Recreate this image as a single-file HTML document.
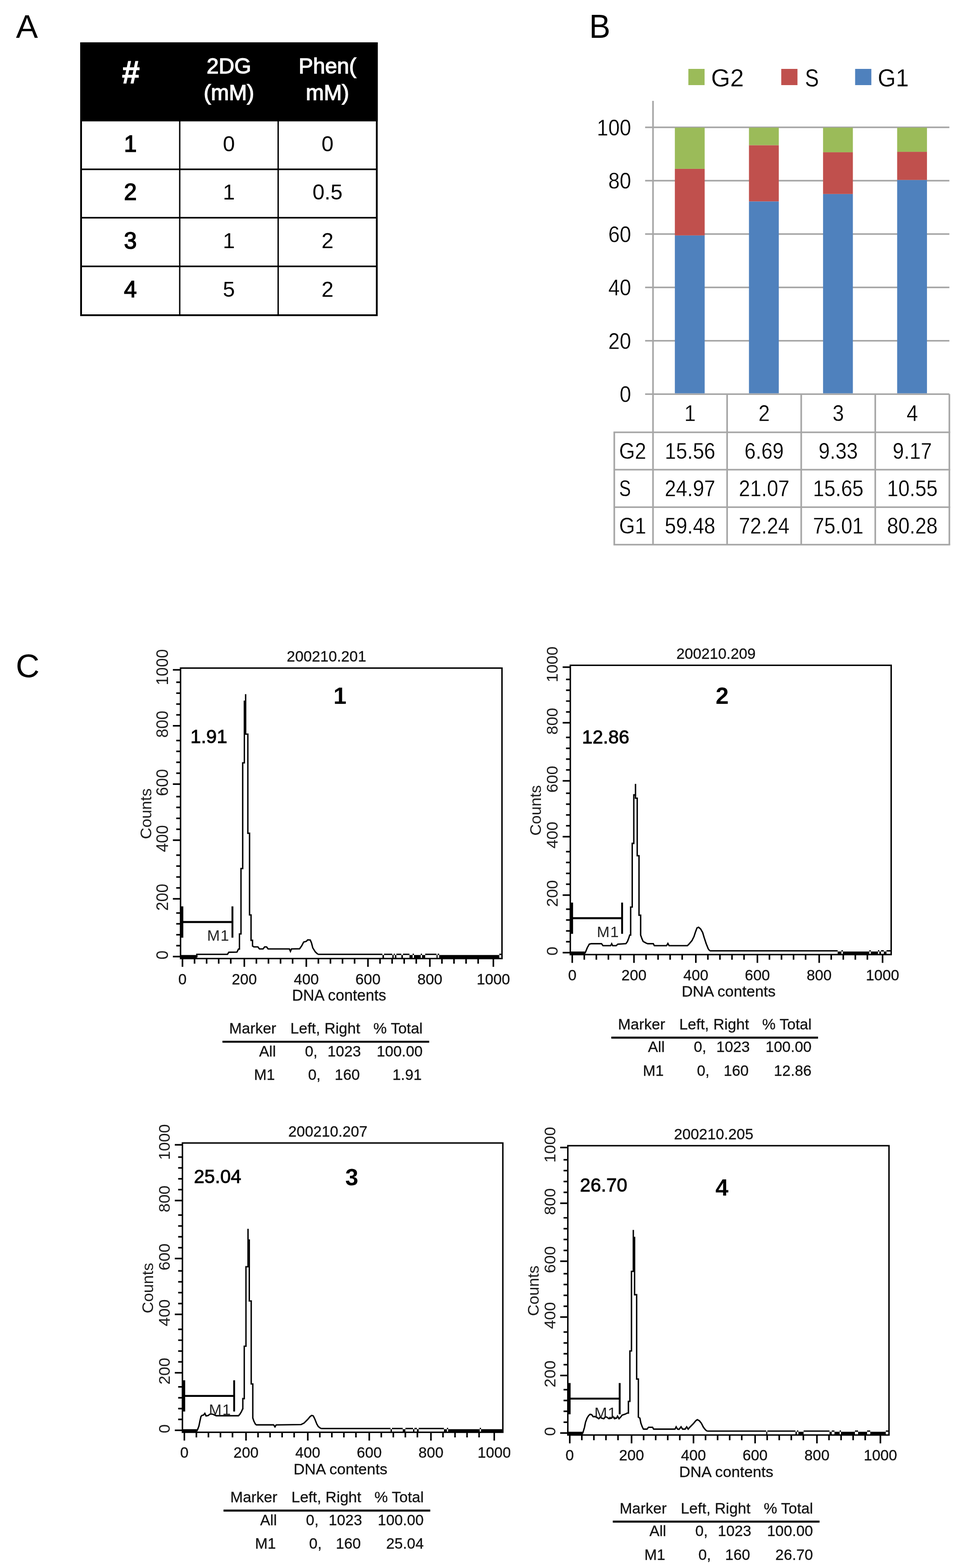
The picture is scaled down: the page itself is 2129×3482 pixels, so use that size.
<!DOCTYPE html>
<html lang="en"><head><meta charset="utf-8"><title>Figure</title>
<style>html,body{margin:0;padding:0;background:#fff}body{width:2129px;height:3482px;overflow:hidden}svg{display:block;font-family:'Liberation Sans', sans-serif}text{white-space:pre}</style>
</head><body>
<svg width="2129" height="3482" viewBox="0 0 2129 3482">
<rect width="2129" height="3482" fill="#fff"/>
<text x="35.5" y="84.0" font-size="73">A</text>
<text x="1308.0" y="84.0" font-size="75" textLength="47.0" lengthAdjust="spacingAndGlyphs">B</text>
<text x="35.0" y="1504.0" font-size="73">C</text>
<rect x="178" y="94" width="660.5" height="175.5" fill="#000"/>
<rect x="180" y="96" width="656.5" height="604" fill="none" stroke="#000" stroke-width="4"/>
<line x1="180" y1="376" x2="836.5" y2="376" stroke="#000" stroke-width="3.4"/>
<line x1="180" y1="483.5" x2="836.5" y2="483.5" stroke="#000" stroke-width="3.4"/>
<line x1="180" y1="591.5" x2="836.5" y2="591.5" stroke="#000" stroke-width="3.4"/>
<line x1="399" y1="268" x2="399" y2="700" stroke="#000" stroke-width="3"/>
<line x1="617.5" y1="268" x2="617.5" y2="700" stroke="#000" stroke-width="3"/>
<text x="290.5" y="184.5" font-size="71" text-anchor="middle" font-weight="bold" fill="#fff" stroke="#fff" stroke-width="1.2">#</text>
<text x="508.2" y="162.5" font-size="48" text-anchor="middle" fill="#fff" stroke="#fff" stroke-width="1.5">2DG</text>
<text x="508.2" y="221.5" font-size="48" text-anchor="middle" fill="#fff" stroke="#fff" stroke-width="1.5">(mM)</text>
<text x="727.0" y="162.5" font-size="48" text-anchor="middle" fill="#fff" stroke="#fff" stroke-width="1.5">Phen(</text>
<text x="727.0" y="221.5" font-size="48" text-anchor="middle" fill="#fff" stroke="#fff" stroke-width="1.5">mM)</text>
<text x="289.5" y="336.5" font-size="51" text-anchor="middle" stroke="#000" stroke-width="1.7">1</text>
<text x="508.2" y="335.5" font-size="48" text-anchor="middle">0</text>
<text x="727.0" y="335.5" font-size="48" text-anchor="middle">0</text>
<text x="289.5" y="444.2" font-size="51" text-anchor="middle" stroke="#000" stroke-width="1.7">2</text>
<text x="508.2" y="443.2" font-size="48" text-anchor="middle">1</text>
<text x="727.0" y="443.2" font-size="48" text-anchor="middle">0.5</text>
<text x="289.5" y="552.0" font-size="51" text-anchor="middle" stroke="#000" stroke-width="1.7">3</text>
<text x="508.2" y="551.0" font-size="48" text-anchor="middle">1</text>
<text x="727.0" y="551.0" font-size="48" text-anchor="middle">2</text>
<text x="289.5" y="660.2" font-size="51" text-anchor="middle" stroke="#000" stroke-width="1.7">4</text>
<text x="508.2" y="659.2" font-size="48" text-anchor="middle">5</text>
<text x="727.0" y="659.2" font-size="48" text-anchor="middle">2</text>
<line x1="1432.2" y1="875.2" x2="2107.6" y2="875.2" stroke="#A6A6A6" stroke-width="3.6"/>
<line x1="1432.2" y1="756.7" x2="2107.6" y2="756.7" stroke="#A6A6A6" stroke-width="3.6"/>
<line x1="1432.2" y1="638.2" x2="2107.6" y2="638.2" stroke="#A6A6A6" stroke-width="3.6"/>
<line x1="1432.2" y1="519.8" x2="2107.6" y2="519.8" stroke="#A6A6A6" stroke-width="3.6"/>
<line x1="1432.2" y1="401.3" x2="2107.6" y2="401.3" stroke="#A6A6A6" stroke-width="3.6"/>
<line x1="1432.2" y1="282.8" x2="2107.6" y2="282.8" stroke="#A6A6A6" stroke-width="3.6"/>
<rect x="1498.2" y="522.8" width="66.2" height="350.6" fill="#4F81BD"/>
<rect x="1498.2" y="374.9" width="66.2" height="147.9" fill="#C0504D"/>
<rect x="1498.2" y="283.4" width="66.2" height="91.5" fill="#9BBB59"/>
<rect x="1662.7" y="447.3" width="66.2" height="426.1" fill="#4F81BD"/>
<rect x="1662.7" y="322.4" width="66.2" height="124.8" fill="#C0504D"/>
<rect x="1662.7" y="283.4" width="66.2" height="39.0" fill="#9BBB59"/>
<rect x="1827.2" y="430.8" width="66.2" height="442.6" fill="#4F81BD"/>
<rect x="1827.2" y="338.1" width="66.2" height="92.7" fill="#C0504D"/>
<rect x="1827.2" y="283.4" width="66.2" height="54.7" fill="#9BBB59"/>
<rect x="1991.7" y="399.6" width="66.2" height="473.8" fill="#4F81BD"/>
<rect x="1991.7" y="337.1" width="66.2" height="62.5" fill="#C0504D"/>
<rect x="1991.7" y="283.4" width="66.2" height="53.7" fill="#9BBB59"/>
<line x1="1449.7" y1="224" x2="1449.7" y2="1209.5" stroke="#A6A6A6" stroke-width="3.6"/>
<line x1="1361.9" y1="960.0" x2="2109.4" y2="960.0" stroke="#A6A6A6" stroke-width="3.6"/>
<line x1="1361.9" y1="1043.0" x2="2109.4" y2="1043.0" stroke="#A6A6A6" stroke-width="3.6"/>
<line x1="1361.9" y1="1126.3" x2="2109.4" y2="1126.3" stroke="#A6A6A6" stroke-width="3.6"/>
<line x1="1361.9" y1="1209.5" x2="2109.4" y2="1209.5" stroke="#A6A6A6" stroke-width="3.6"/>
<line x1="1363.7" y1="960.0" x2="1363.7" y2="1209.5" stroke="#A6A6A6" stroke-width="3.6"/>
<line x1="1614.2" y1="875.2" x2="1614.2" y2="1209.5" stroke="#A6A6A6" stroke-width="3.6"/>
<line x1="1778.7" y1="875.2" x2="1778.7" y2="1209.5" stroke="#A6A6A6" stroke-width="3.6"/>
<line x1="1943.1" y1="875.2" x2="1943.1" y2="1209.5" stroke="#A6A6A6" stroke-width="3.6"/>
<line x1="2107.6" y1="875.2" x2="2107.6" y2="1209.5" stroke="#A6A6A6" stroke-width="3.6"/>
<text x="1401.0" y="893.2" font-size="50" text-anchor="end" textLength="25.3" lengthAdjust="spacingAndGlyphs" stroke="#fff" stroke-width="0.35">0</text>
<text x="1401.0" y="774.7" font-size="50" text-anchor="end" textLength="50.6" lengthAdjust="spacingAndGlyphs" stroke="#fff" stroke-width="0.35">20</text>
<text x="1401.0" y="656.2" font-size="50" text-anchor="end" textLength="50.6" lengthAdjust="spacingAndGlyphs" stroke="#fff" stroke-width="0.35">40</text>
<text x="1401.0" y="537.8" font-size="50" text-anchor="end" textLength="50.6" lengthAdjust="spacingAndGlyphs" stroke="#fff" stroke-width="0.35">60</text>
<text x="1401.0" y="419.3" font-size="50" text-anchor="end" textLength="50.6" lengthAdjust="spacingAndGlyphs" stroke="#fff" stroke-width="0.35">80</text>
<text x="1401.0" y="300.8" font-size="50" text-anchor="end" textLength="75.9" lengthAdjust="spacingAndGlyphs" stroke="#fff" stroke-width="0.35">100</text>
<text x="1531.9" y="934.5" font-size="50" text-anchor="middle" textLength="25.3" lengthAdjust="spacingAndGlyphs" stroke="#fff" stroke-width="0.35">1</text>
<text x="1696.4" y="934.5" font-size="50" text-anchor="middle" textLength="25.3" lengthAdjust="spacingAndGlyphs" stroke="#fff" stroke-width="0.35">2</text>
<text x="1860.9" y="934.5" font-size="50" text-anchor="middle" textLength="25.3" lengthAdjust="spacingAndGlyphs" stroke="#fff" stroke-width="0.35">3</text>
<text x="2025.4" y="934.5" font-size="50" text-anchor="middle" textLength="25.3" lengthAdjust="spacingAndGlyphs" stroke="#fff" stroke-width="0.35">4</text>
<text x="1374.5" y="1019.0" font-size="50" textLength="60.0" lengthAdjust="spacingAndGlyphs" stroke="#fff" stroke-width="0.35">G2</text>
<text x="1531.9" y="1019.0" font-size="50" text-anchor="middle" textLength="112.4" lengthAdjust="spacingAndGlyphs" stroke="#fff" stroke-width="0.35">15.56</text>
<text x="1696.4" y="1019.0" font-size="50" text-anchor="middle" textLength="87.1" lengthAdjust="spacingAndGlyphs" stroke="#fff" stroke-width="0.35">6.69</text>
<text x="1860.9" y="1019.0" font-size="50" text-anchor="middle" textLength="87.1" lengthAdjust="spacingAndGlyphs" stroke="#fff" stroke-width="0.35">9.33</text>
<text x="2025.4" y="1019.0" font-size="50" text-anchor="middle" textLength="87.1" lengthAdjust="spacingAndGlyphs" stroke="#fff" stroke-width="0.35">9.17</text>
<text x="1374.5" y="1102.0" font-size="50" textLength="26.0" lengthAdjust="spacingAndGlyphs" stroke="#fff" stroke-width="0.35">S</text>
<text x="1531.9" y="1102.0" font-size="50" text-anchor="middle" textLength="112.4" lengthAdjust="spacingAndGlyphs" stroke="#fff" stroke-width="0.35">24.97</text>
<text x="1696.4" y="1102.0" font-size="50" text-anchor="middle" textLength="112.4" lengthAdjust="spacingAndGlyphs" stroke="#fff" stroke-width="0.35">21.07</text>
<text x="1860.9" y="1102.0" font-size="50" text-anchor="middle" textLength="112.4" lengthAdjust="spacingAndGlyphs" stroke="#fff" stroke-width="0.35">15.65</text>
<text x="2025.4" y="1102.0" font-size="50" text-anchor="middle" textLength="112.4" lengthAdjust="spacingAndGlyphs" stroke="#fff" stroke-width="0.35">10.55</text>
<text x="1374.5" y="1185.3" font-size="50" textLength="60.0" lengthAdjust="spacingAndGlyphs" stroke="#fff" stroke-width="0.35">G1</text>
<text x="1531.9" y="1185.3" font-size="50" text-anchor="middle" textLength="112.4" lengthAdjust="spacingAndGlyphs" stroke="#fff" stroke-width="0.35">59.48</text>
<text x="1696.4" y="1185.3" font-size="50" text-anchor="middle" textLength="112.4" lengthAdjust="spacingAndGlyphs" stroke="#fff" stroke-width="0.35">72.24</text>
<text x="1860.9" y="1185.3" font-size="50" text-anchor="middle" textLength="112.4" lengthAdjust="spacingAndGlyphs" stroke="#fff" stroke-width="0.35">75.01</text>
<text x="2025.4" y="1185.3" font-size="50" text-anchor="middle" textLength="112.4" lengthAdjust="spacingAndGlyphs" stroke="#fff" stroke-width="0.35">80.28</text>
<rect x="1528.2" y="153" width="36" height="36" fill="#9BBB59"/>
<text x="1578.5" y="191.5" font-size="56" textLength="73.0" lengthAdjust="spacingAndGlyphs" stroke="#fff" stroke-width="0.35">G2</text>
<rect x="1734.4" y="153" width="36" height="36" fill="#C0504D"/>
<text x="1787.0" y="191.5" font-size="56" textLength="31.0" lengthAdjust="spacingAndGlyphs" stroke="#fff" stroke-width="0.35">S</text>
<rect x="1898.4" y="153" width="36" height="36" fill="#4F81BD"/>
<text x="1948.5" y="191.5" font-size="56" textLength="69.0" lengthAdjust="spacingAndGlyphs" stroke="#fff" stroke-width="0.35">G1</text>
<g transform="translate(400.8 1483.6) scale(1.00000 1.00000)">
<path d="M4.3 645.0v18.5M31.1 645.0v11.5M57.9 645.0v11.5M84.7 645.0v11.5M111.5 645.0v11.5M141.6 645.0v18.5M168.4 645.0v11.5M195.2 645.0v11.5M222.0 645.0v11.5M248.8 645.0v11.5M279.2 645.0v18.5M306.0 645.0v11.5M332.8 645.0v11.5M359.6 645.0v11.5M386.4 645.0v11.5M416.1 645.0v18.5M442.9 645.0v11.5M469.7 645.0v11.5M496.5 645.0v11.5M523.3 645.0v11.5M553.5 645.0v18.5M580.3 645.0v11.5M607.1 645.0v11.5M633.9 645.0v11.5M660.7 645.0v11.5M694.5 645.0v18.5M0 640.6h-17M0 616.4h-9.5M0 592.2h-9.5M0 568.0h-9.5M0 543.8h-9.5M0 512.3h-17M0 488.1h-9.5M0 463.9h-9.5M0 439.7h-9.5M0 415.5h-9.5M0 382.1h-17M0 357.9h-9.5M0 333.7h-9.5M0 309.5h-9.5M0 285.3h-9.5M0 257.6h-17M0 233.4h-9.5M0 209.2h-9.5M0 185.0h-9.5M0 160.8h-9.5M0 128.2h-17M0 104.0h-9.5M0 79.8h-9.5M0 55.6h-9.5M0 31.4h-9.5M0 4.0h-17" stroke="#000" stroke-width="3.5" fill="none"/>
<polyline points="1.2,640.8 36.2,640.8 36.2,635.6 104.2,635.6 107.2,631.0 125.2,630.6 128.7,623.9 130.8,623.9 130.8,590.4 134.2,590.4 134.2,445.1 138.0,445.1 138.0,210.4 141.7,210.4 141.7,73.6 144.5,73.6 144.5,57.9 144.5,146.6 149.4,146.6 149.4,366.8 153.2,366.8 153.2,548.1 156.5,548.1 156.5,604.5 159.8,604.5 159.8,617.0 162.8,619.2 171.7,619.2 175.2,623.7 183.2,623.7 186.7,619.2 191.0,619.2 194.4,623.7 241.7,623.7 244.0,628.9 246.2,623.7 264.3,623.3 268.8,617.0 273.3,608.4 279.2,606.8 282.4,603.4 288.0,603.8 290.7,610.2 293.6,621.4 299.3,630.4 304.9,635.6" fill="none" stroke="#000" stroke-width="3.1" stroke-linejoin="miter"/>
<path d="M304.9 635.6H448.2M451.7 635.6H470.2M473.2 635.6H475.7M479.2 635.6H490.2M493.7 635.6H508.2M515.2 635.6H518.2M533.2 635.6H536.2M543.2 635.6H568.2M570.7 635.6H574.2M707.7 635.6H712.2" stroke="#000" stroke-width="3" fill="none"/>
<path d="M1.2 641.1H36.2M448.2 641.1H451.7M470.2 641.1H473.2M475.7 641.1H479.2M490.2 641.1H493.7M508.2 641.1H515.2M518.2 641.1H533.2M536.2 641.1H543.2M568.2 641.1H570.7M574.2 641.1H707.7" stroke="#000" stroke-width="7.8" fill="none"/>
<rect x="0" y="0" width="713.6" height="645.0" fill="none" stroke="#000" stroke-width="3.2"/>
<path d="M4.3 563.9H115.2" stroke="#000" stroke-width="4.4" fill="none"/>
<path d="M3.5 529.1v69.6" stroke="#000" stroke-width="5.3" fill="none"/>
<path d="M115.2 529.1v69.6" stroke="#000" stroke-width="4.2" fill="none"/>
<text x="59.0" y="605.7" font-size="34" fill="#222" letter-spacing="1.5">M1</text>
<text x="4.3" y="702.0" font-size="33.4" text-anchor="middle" fill="#111" stroke="#111" stroke-width="0.35">0</text>
<text x="141.6" y="702.0" font-size="33.4" text-anchor="middle" fill="#111" stroke="#111" stroke-width="0.35">200</text>
<text x="279.2" y="702.0" font-size="33.4" text-anchor="middle" fill="#111" stroke="#111" stroke-width="0.35">400</text>
<text x="416.1" y="702.0" font-size="33.4" text-anchor="middle" fill="#111" stroke="#111" stroke-width="0.35">600</text>
<text x="553.5" y="702.0" font-size="33.4" text-anchor="middle" fill="#111" stroke="#111" stroke-width="0.35">800</text>
<text x="694.5" y="702.0" font-size="33.4" text-anchor="middle" fill="#111" stroke="#111" stroke-width="0.35">1000</text>
<text x="-28.0" y="637.1" font-size="36" text-anchor="middle" fill="#1c1c1c" transform="rotate(-90 -28.0 637.1)">0</text>
<text x="-28.0" y="508.8" font-size="36" text-anchor="middle" fill="#1c1c1c" transform="rotate(-90 -28.0 508.8)">200</text>
<text x="-28.0" y="378.6" font-size="36" text-anchor="middle" fill="#1c1c1c" transform="rotate(-90 -28.0 378.6)">400</text>
<text x="-28.0" y="254.1" font-size="36" text-anchor="middle" fill="#1c1c1c" transform="rotate(-90 -28.0 254.1)">600</text>
<text x="-28.0" y="124.7" font-size="36" text-anchor="middle" fill="#1c1c1c" transform="rotate(-90 -28.0 124.7)">800</text>
<text x="-28.0" y="-2.0" font-size="36" text-anchor="middle" fill="#1c1c1c" transform="rotate(-90 -28.0 -2.0)">1000</text>
<text x="-65.0" y="323.5" font-size="35.6" text-anchor="middle" fill="#1c1c1c" transform="rotate(-90 -65.0 323.5)">Counts</text>
<text x="352.0" y="738.5" font-size="34.199999999999996" text-anchor="middle" fill="#111" stroke="#111" stroke-width="0.35">DNA contents</text>
<text x="324.0" y="-14.5" font-size="33.4" text-anchor="middle" fill="#111" stroke="#111" stroke-width="0.35">200210.201</text>
</g>
<g transform="translate(400.8 1483.6)">
<text x="354.0" y="79.5" font-size="52" text-anchor="middle" font-weight="bold">1</text>
<text x="22.0" y="166.5" font-size="42" stroke="#000" stroke-width="1">1.91</text>
</g>
<g transform="translate(400.8 1483.6)">
<text x="108.0" y="811.5" font-size="33.6" fill="#111" stroke="#111" stroke-width="0.35">Marker</text>
<text x="243.8" y="811.5" font-size="34.0" fill="#111" stroke="#111" stroke-width="0.35">Left, Right</text>
<text x="428.0" y="811.5" font-size="33.6" fill="#111" stroke="#111" stroke-width="0.35">% Total</text>
<line x1="93" y1="829.8" x2="552" y2="829.8" stroke="#000" stroke-width="4.4"/>
<text x="211.5" y="862.0" font-size="33.4" text-anchor="end" fill="#111" stroke="#111" stroke-width="0.35">All</text>
<text x="304.0" y="862.0" font-size="33.4" text-anchor="end" fill="#111" stroke="#111" stroke-width="0.35">0,</text>
<text x="400.5" y="862.0" font-size="33.4" text-anchor="end" fill="#111" stroke="#111" stroke-width="0.35">1023</text>
<text x="537.5" y="862.0" font-size="33.4" text-anchor="end" fill="#111" stroke="#111" stroke-width="0.35">100.00</text>
<text x="209.5" y="914.5" font-size="33.4" text-anchor="end" fill="#111" stroke="#111" stroke-width="0.35">M1</text>
<text x="311.0" y="914.5" font-size="33.4" text-anchor="end" fill="#111" stroke="#111" stroke-width="0.35">0,</text>
<text x="398.0" y="914.5" font-size="33.4" text-anchor="end" fill="#111" stroke="#111" stroke-width="0.35">160</text>
<text x="535.5" y="914.5" font-size="33.4" text-anchor="end" fill="#111" stroke="#111" stroke-width="0.35">1.91</text>
</g>
<g transform="translate(1266.1 1477.4) scale(0.99818 0.99597)">
<path d="M4.3 645.0v18.5M31.1 645.0v11.5M57.9 645.0v11.5M84.7 645.0v11.5M111.5 645.0v11.5M141.6 645.0v18.5M168.4 645.0v11.5M195.2 645.0v11.5M222.0 645.0v11.5M248.8 645.0v11.5M279.2 645.0v18.5M306.0 645.0v11.5M332.8 645.0v11.5M359.6 645.0v11.5M386.4 645.0v11.5M416.1 645.0v18.5M442.9 645.0v11.5M469.7 645.0v11.5M496.5 645.0v11.5M523.3 645.0v11.5M553.5 645.0v18.5M580.3 645.0v11.5M607.1 645.0v11.5M633.9 645.0v11.5M660.7 645.0v11.5M694.5 645.0v18.5M0 640.6h-17M0 616.4h-9.5M0 592.2h-9.5M0 568.0h-9.5M0 543.8h-9.5M0 512.3h-17M0 488.1h-9.5M0 463.9h-9.5M0 439.7h-9.5M0 415.5h-9.5M0 382.1h-17M0 357.9h-9.5M0 333.7h-9.5M0 309.5h-9.5M0 285.3h-9.5M0 257.6h-17M0 233.4h-9.5M0 209.2h-9.5M0 185.0h-9.5M0 160.8h-9.5M0 128.2h-17M0 104.0h-9.5M0 79.8h-9.5M0 55.6h-9.5M0 31.4h-9.5M0 4.0h-17" stroke="#000" stroke-width="3.5" fill="none"/>
<polyline points="0.9,641.4 32.5,641.4 33.2,641.1 37.7,629.7 42.2,621.8 46.8,620.7 69.4,620.7 72.7,625.2 89.7,625.2 92.0,620.7 94.2,625.2 102.1,625.2 105.5,621.8 123.6,620.7 127.0,616.1 130.4,607.1 132.2,601.4 134.2,601.4 134.2,539.1 137.7,539.1 137.7,397.1 141.2,397.1 141.2,288.9 145.0,288.9 145.0,264.5 145.0,296.3 148.8,296.3 148.8,424.6 152.8,424.6 152.8,557.2 156.4,557.2 156.4,601.4 159.1,609.3 162.0,615.7 168.8,619.5 172.2,620.7 184.6,620.7 186.9,625.2 214.0,625.2 217.0,620.2 219.7,625.2 260.4,625.2 263.8,621.8 270.5,613.9 275.1,604.8 278.4,594.6 281.8,585.5 285.2,584.0 289.7,587.8 294.3,595.7 297.7,607.1 302.2,620.7 306.7,632.0 310.1,636.6" fill="none" stroke="#000" stroke-width="3.1" stroke-linejoin="miter"/>
<path d="M310.1 636.6H594.6M603.0 636.6H606.0M665.1 636.6H668.1M684.1 636.6H687.2M691.2 636.6H697.2M703.2 636.6H712.2" stroke="#000" stroke-width="3" fill="none"/>
<path d="M0.9 641.6H32.5M594.6 641.6H603.0M606.0 641.6H665.1M668.1 641.6H684.1M687.2 641.6H691.2M697.2 641.6H703.2" stroke="#000" stroke-width="6.8" fill="none"/>
<rect x="0" y="0" width="713.6" height="645.0" fill="none" stroke="#000" stroke-width="3.2"/>
<path d="M4.3 563.9H115.2" stroke="#000" stroke-width="4.4" fill="none"/>
<path d="M3.5 529.1v69.6" stroke="#000" stroke-width="5.3" fill="none"/>
<path d="M115.2 529.1v69.6" stroke="#000" stroke-width="4.2" fill="none"/>
<text x="59.0" y="606.5" font-size="34" fill="#222" letter-spacing="1.5">M1</text>
<text x="4.3" y="702.0" font-size="33.4" text-anchor="middle" fill="#111" stroke="#111" stroke-width="0.35">0</text>
<text x="141.6" y="702.0" font-size="33.4" text-anchor="middle" fill="#111" stroke="#111" stroke-width="0.35">200</text>
<text x="279.2" y="702.0" font-size="33.4" text-anchor="middle" fill="#111" stroke="#111" stroke-width="0.35">400</text>
<text x="416.1" y="702.0" font-size="33.4" text-anchor="middle" fill="#111" stroke="#111" stroke-width="0.35">600</text>
<text x="553.5" y="702.0" font-size="33.4" text-anchor="middle" fill="#111" stroke="#111" stroke-width="0.35">800</text>
<text x="694.5" y="702.0" font-size="33.4" text-anchor="middle" fill="#111" stroke="#111" stroke-width="0.35">1000</text>
<text x="-28.0" y="637.1" font-size="36" text-anchor="middle" fill="#1c1c1c" transform="rotate(-90 -28.0 637.1)">0</text>
<text x="-28.0" y="508.8" font-size="36" text-anchor="middle" fill="#1c1c1c" transform="rotate(-90 -28.0 508.8)">200</text>
<text x="-28.0" y="378.6" font-size="36" text-anchor="middle" fill="#1c1c1c" transform="rotate(-90 -28.0 378.6)">400</text>
<text x="-28.0" y="254.1" font-size="36" text-anchor="middle" fill="#1c1c1c" transform="rotate(-90 -28.0 254.1)">600</text>
<text x="-28.0" y="124.7" font-size="36" text-anchor="middle" fill="#1c1c1c" transform="rotate(-90 -28.0 124.7)">800</text>
<text x="-28.0" y="-2.0" font-size="36" text-anchor="middle" fill="#1c1c1c" transform="rotate(-90 -28.0 -2.0)">1000</text>
<text x="-65.0" y="323.5" font-size="35.6" text-anchor="middle" fill="#1c1c1c" transform="rotate(-90 -65.0 323.5)">Counts</text>
<text x="352.0" y="738.5" font-size="34.199999999999996" text-anchor="middle" fill="#111" stroke="#111" stroke-width="0.35">DNA contents</text>
<text x="324.0" y="-14.5" font-size="33.4" text-anchor="middle" fill="#111" stroke="#111" stroke-width="0.35">200210.209</text>
</g>
<g transform="translate(1266.1 1477.4)">
<text x="337.0" y="85.5" font-size="52" text-anchor="middle" font-weight="bold">2</text>
<text x="26.0" y="173.5" font-size="42" stroke="#000" stroke-width="1">12.86</text>
</g>
<g transform="translate(1264.1 1474.4)">
<text x="108.0" y="811.5" font-size="33.6" fill="#111" stroke="#111" stroke-width="0.35">Marker</text>
<text x="243.8" y="811.5" font-size="34.0" fill="#111" stroke="#111" stroke-width="0.35">Left, Right</text>
<text x="428.0" y="811.5" font-size="33.6" fill="#111" stroke="#111" stroke-width="0.35">% Total</text>
<line x1="93" y1="829.8" x2="552" y2="829.8" stroke="#000" stroke-width="4.4"/>
<text x="211.5" y="862.0" font-size="33.4" text-anchor="end" fill="#111" stroke="#111" stroke-width="0.35">All</text>
<text x="304.0" y="862.0" font-size="33.4" text-anchor="end" fill="#111" stroke="#111" stroke-width="0.35">0,</text>
<text x="400.5" y="862.0" font-size="33.4" text-anchor="end" fill="#111" stroke="#111" stroke-width="0.35">1023</text>
<text x="537.5" y="862.0" font-size="33.4" text-anchor="end" fill="#111" stroke="#111" stroke-width="0.35">100.00</text>
<text x="209.5" y="914.5" font-size="33.4" text-anchor="end" fill="#111" stroke="#111" stroke-width="0.35">M1</text>
<text x="311.0" y="914.5" font-size="33.4" text-anchor="end" fill="#111" stroke="#111" stroke-width="0.35">0,</text>
<text x="398.0" y="914.5" font-size="33.4" text-anchor="end" fill="#111" stroke="#111" stroke-width="0.35">160</text>
<text x="537.5" y="914.5" font-size="33.4" text-anchor="end" fill="#111" stroke="#111" stroke-width="0.35">12.86</text>
</g>
<g transform="translate(405.0 2538.2) scale(0.99678 0.99597)">
<path d="M4.3 645.0v18.5M31.1 645.0v11.5M57.9 645.0v11.5M84.7 645.0v11.5M111.5 645.0v11.5M141.6 645.0v18.5M168.4 645.0v11.5M195.2 645.0v11.5M222.0 645.0v11.5M248.8 645.0v11.5M279.2 645.0v18.5M306.0 645.0v11.5M332.8 645.0v11.5M359.6 645.0v11.5M386.4 645.0v11.5M416.1 645.0v18.5M442.9 645.0v11.5M469.7 645.0v11.5M496.5 645.0v11.5M523.3 645.0v11.5M553.5 645.0v18.5M580.3 645.0v11.5M607.1 645.0v11.5M633.9 645.0v11.5M660.7 645.0v11.5M694.5 645.0v18.5M0 640.6h-17M0 616.4h-9.5M0 592.2h-9.5M0 568.0h-9.5M0 543.8h-9.5M0 512.3h-17M0 488.1h-9.5M0 463.9h-9.5M0 439.7h-9.5M0 415.5h-9.5M0 382.1h-17M0 357.9h-9.5M0 333.7h-9.5M0 309.5h-9.5M0 285.3h-9.5M0 257.6h-17M0 233.4h-9.5M0 209.2h-9.5M0 185.0h-9.5M0 160.8h-9.5M0 128.2h-17M0 104.0h-9.5M0 79.8h-9.5M0 55.6h-9.5M0 31.4h-9.5M0 4.0h-17" stroke="#000" stroke-width="3.5" fill="none"/>
<polyline points="1.0,641.3 32.6,641.3 33.3,640.2 36.7,631.2 39.0,619.9 41.3,609.7 43.5,607.4 46.9,606.7 49.9,602.9 52.6,608.5 57.1,607.9 60.5,605.1 63.9,604.0 68.4,605.1 75.2,608.1 125.0,608.1 128.4,604.0 131.8,598.3 134.1,592.7 134.5,592.7 134.5,570.0 137.7,570.0 137.7,453.1 141.5,453.1 141.5,275.9 146.1,275.9 146.1,191.4 146.1,216.4 148.9,216.4 148.9,352.3 153.2,352.3 153.2,537.2 156.7,537.2 156.7,613.1 159.0,619.9 162.4,626.7 164.6,628.5 203.1,628.5 206.1,633.0 208.8,628.5 264.2,627.8 271.0,624.4 278.9,616.5 284.6,609.7 288.0,607.4 291.4,608.5 294.8,615.3 299.3,626.7 302.7,632.3 308.4,636.6" fill="none" stroke="#000" stroke-width="3.1" stroke-linejoin="miter"/>
<path d="M308.4 636.6H463.5M466.5 636.6H490.6M496.6 636.6H513.7M516.7 636.6H522.2M526.2 636.6H582.4M588.9 636.6H591.9M662.1 636.6H665.1" stroke="#000" stroke-width="3" fill="none"/>
<path d="M1.0 641.6H32.6M463.5 641.6H466.5M490.6 641.6H496.6M513.7 641.6H516.7M522.2 641.6H526.2M582.4 641.6H588.9M591.9 641.6H662.1M665.1 641.6H713.3" stroke="#000" stroke-width="6.8" fill="none"/>
<rect x="0" y="0" width="713.6" height="645.0" fill="none" stroke="#000" stroke-width="3.2"/>
<path d="M4.3 563.9H115.2" stroke="#000" stroke-width="4.4" fill="none"/>
<path d="M3.5 529.1v69.6" stroke="#000" stroke-width="5.3" fill="none"/>
<path d="M115.2 529.1v69.6" stroke="#000" stroke-width="4.2" fill="none"/>
<text x="59.0" y="606.5" font-size="34" fill="#222" letter-spacing="1.5">M1</text>
<text x="4.3" y="702.0" font-size="33.4" text-anchor="middle" fill="#111" stroke="#111" stroke-width="0.35">0</text>
<text x="141.6" y="702.0" font-size="33.4" text-anchor="middle" fill="#111" stroke="#111" stroke-width="0.35">200</text>
<text x="279.2" y="702.0" font-size="33.4" text-anchor="middle" fill="#111" stroke="#111" stroke-width="0.35">400</text>
<text x="416.1" y="702.0" font-size="33.4" text-anchor="middle" fill="#111" stroke="#111" stroke-width="0.35">600</text>
<text x="553.5" y="702.0" font-size="33.4" text-anchor="middle" fill="#111" stroke="#111" stroke-width="0.35">800</text>
<text x="694.5" y="702.0" font-size="33.4" text-anchor="middle" fill="#111" stroke="#111" stroke-width="0.35">1000</text>
<text x="-28.0" y="637.1" font-size="36" text-anchor="middle" fill="#1c1c1c" transform="rotate(-90 -28.0 637.1)">0</text>
<text x="-28.0" y="508.8" font-size="36" text-anchor="middle" fill="#1c1c1c" transform="rotate(-90 -28.0 508.8)">200</text>
<text x="-28.0" y="378.6" font-size="36" text-anchor="middle" fill="#1c1c1c" transform="rotate(-90 -28.0 378.6)">400</text>
<text x="-28.0" y="254.1" font-size="36" text-anchor="middle" fill="#1c1c1c" transform="rotate(-90 -28.0 254.1)">600</text>
<text x="-28.0" y="124.7" font-size="36" text-anchor="middle" fill="#1c1c1c" transform="rotate(-90 -28.0 124.7)">800</text>
<text x="-28.0" y="-2.0" font-size="36" text-anchor="middle" fill="#1c1c1c" transform="rotate(-90 -28.0 -2.0)">1000</text>
<text x="-65.0" y="323.5" font-size="35.6" text-anchor="middle" fill="#1c1c1c" transform="rotate(-90 -65.0 323.5)">Counts</text>
<text x="352.0" y="738.5" font-size="34.199999999999996" text-anchor="middle" fill="#111" stroke="#111" stroke-width="0.35">DNA contents</text>
<text x="324.0" y="-14.5" font-size="33.4" text-anchor="middle" fill="#111" stroke="#111" stroke-width="0.35">200210.207</text>
</g>
<g transform="translate(405.0 2538.2)">
<text x="376.0" y="93.5" font-size="52" text-anchor="middle" font-weight="bold">3</text>
<text x="25.5" y="89.0" font-size="42" stroke="#000" stroke-width="1">25.04</text>
</g>
<g transform="translate(403.2 2524.7)">
<text x="108.0" y="811.5" font-size="33.6" fill="#111" stroke="#111" stroke-width="0.35">Marker</text>
<text x="243.8" y="811.5" font-size="34.0" fill="#111" stroke="#111" stroke-width="0.35">Left, Right</text>
<text x="428.0" y="811.5" font-size="33.6" fill="#111" stroke="#111" stroke-width="0.35">% Total</text>
<line x1="93" y1="829.8" x2="552" y2="829.8" stroke="#000" stroke-width="4.4"/>
<text x="211.5" y="862.0" font-size="33.4" text-anchor="end" fill="#111" stroke="#111" stroke-width="0.35">All</text>
<text x="304.0" y="862.0" font-size="33.4" text-anchor="end" fill="#111" stroke="#111" stroke-width="0.35">0,</text>
<text x="400.5" y="862.0" font-size="33.4" text-anchor="end" fill="#111" stroke="#111" stroke-width="0.35">1023</text>
<text x="537.5" y="862.0" font-size="33.4" text-anchor="end" fill="#111" stroke="#111" stroke-width="0.35">100.00</text>
<text x="209.5" y="914.5" font-size="33.4" text-anchor="end" fill="#111" stroke="#111" stroke-width="0.35">M1</text>
<text x="311.0" y="914.5" font-size="33.4" text-anchor="end" fill="#111" stroke="#111" stroke-width="0.35">0,</text>
<text x="398.0" y="914.5" font-size="33.4" text-anchor="end" fill="#111" stroke="#111" stroke-width="0.35">160</text>
<text x="537.5" y="914.5" font-size="33.4" text-anchor="end" fill="#111" stroke="#111" stroke-width="0.35">25.04</text>
</g>
<rect x="1132.8" y="3200" width="12" height="50" fill="#fff"/>
<g transform="translate(1260.6 2544.2) scale(0.99916 0.99612)">
<path d="M4.3 645.0v18.5M31.1 645.0v11.5M57.9 645.0v11.5M84.7 645.0v11.5M111.5 645.0v11.5M141.6 645.0v18.5M168.4 645.0v11.5M195.2 645.0v11.5M222.0 645.0v11.5M248.8 645.0v11.5M279.2 645.0v18.5M306.0 645.0v11.5M332.8 645.0v11.5M359.6 645.0v11.5M386.4 645.0v11.5M416.1 645.0v18.5M442.9 645.0v11.5M469.7 645.0v11.5M496.5 645.0v11.5M523.3 645.0v11.5M553.5 645.0v18.5M580.3 645.0v11.5M607.1 645.0v11.5M633.9 645.0v11.5M660.7 645.0v11.5M694.5 645.0v18.5M0 640.6h-17M0 616.4h-9.5M0 592.2h-9.5M0 568.0h-9.5M0 543.8h-9.5M0 512.3h-17M0 488.1h-9.5M0 463.9h-9.5M0 439.7h-9.5M0 415.5h-9.5M0 382.1h-17M0 357.9h-9.5M0 333.7h-9.5M0 309.5h-9.5M0 285.3h-9.5M0 257.6h-17M0 233.4h-9.5M0 209.2h-9.5M0 185.0h-9.5M0 160.8h-9.5M0 128.2h-17M0 104.0h-9.5M0 79.8h-9.5M0 55.6h-9.5M0 31.4h-9.5M0 4.0h-17" stroke="#000" stroke-width="3.5" fill="none"/>
<polyline points="1.4,641.2 32.9,641.2 33.7,639.1 37.0,627.8 39.3,616.5 42.7,607.4 46.1,601.8 49.5,598.8 52.9,599.5 56.2,604.0 61.9,604.0 65.3,606.3 68.7,608.6 72.0,605.2 75.4,607.4 80.0,608.6 83.3,604.0 86.7,605.2 91.2,608.6 96.9,607.4 100.3,604.0 103.7,608.6 108.2,607.4 110.4,602.9 113.8,608.6 117.2,605.2 120.6,600.6 127.4,598.4 131.9,596.1 134.6,596.1 134.6,570.0 137.9,570.0 137.9,457.5 141.4,457.5 141.4,280.2 145.5,280.2 145.5,187.7 145.5,204.6 148.3,204.6 148.3,332.2 152.9,332.2 152.9,520.2 156.7,520.2 156.7,605.1 160.1,607.4 162.4,618.8 165.3,626.7 168.0,631.9 175.9,631.9 179.3,627.8 188.3,627.8 190.6,631.9 238.0,631.9 240.7,626.7 243.7,631.9 247.1,632.3 251.6,626.7 255.0,631.9 260.6,631.9 264.0,626.7 267.4,631.9 270.8,627.8 278.7,619.9 284.3,613.1 287.7,610.8 292.2,613.1 296.7,618.8 301.3,627.8 305.8,633.5 309.2,636.3" fill="none" stroke="#000" stroke-width="3.1" stroke-linejoin="miter"/>
<path d="M309.2 636.3H440.8M443.3 636.3H505.8M508.8 636.3H512.3M523.8 636.3H581.4M586.4 636.3H592.4M603.9 636.3H606.9M637.9 636.3H644.9M665.0 636.3H672.0M706.5 636.3H712.5" stroke="#000" stroke-width="3" fill="none"/>
<path d="M1.4 641.4H32.9M440.8 641.4H443.3M505.8 641.4H508.8M512.3 641.4H523.8M581.4 641.4H586.4M592.4 641.4H603.9M606.9 641.4H637.9M644.9 641.4H665.0M672.0 641.4H706.5" stroke="#000" stroke-width="7.1" fill="none"/>
<rect x="0" y="0" width="713.6" height="645.0" fill="none" stroke="#000" stroke-width="3.2"/>
<path d="M4.3 563.9H115.2" stroke="#000" stroke-width="4.4" fill="none"/>
<path d="M3.5 529.1v69.6" stroke="#000" stroke-width="5.3" fill="none"/>
<path d="M115.2 529.1v69.6" stroke="#000" stroke-width="4.2" fill="none"/>
<text x="59.0" y="607.0" font-size="34" fill="#222" letter-spacing="1.5">M1</text>
<text x="4.3" y="702.0" font-size="33.4" text-anchor="middle" fill="#111" stroke="#111" stroke-width="0.35">0</text>
<text x="141.6" y="702.0" font-size="33.4" text-anchor="middle" fill="#111" stroke="#111" stroke-width="0.35">200</text>
<text x="279.2" y="702.0" font-size="33.4" text-anchor="middle" fill="#111" stroke="#111" stroke-width="0.35">400</text>
<text x="416.1" y="702.0" font-size="33.4" text-anchor="middle" fill="#111" stroke="#111" stroke-width="0.35">600</text>
<text x="553.5" y="702.0" font-size="33.4" text-anchor="middle" fill="#111" stroke="#111" stroke-width="0.35">800</text>
<text x="694.5" y="702.0" font-size="33.4" text-anchor="middle" fill="#111" stroke="#111" stroke-width="0.35">1000</text>
<text x="-28.0" y="637.1" font-size="36" text-anchor="middle" fill="#1c1c1c" transform="rotate(-90 -28.0 637.1)">0</text>
<text x="-28.0" y="508.8" font-size="36" text-anchor="middle" fill="#1c1c1c" transform="rotate(-90 -28.0 508.8)">200</text>
<text x="-28.0" y="378.6" font-size="36" text-anchor="middle" fill="#1c1c1c" transform="rotate(-90 -28.0 378.6)">400</text>
<text x="-28.0" y="254.1" font-size="36" text-anchor="middle" fill="#1c1c1c" transform="rotate(-90 -28.0 254.1)">600</text>
<text x="-28.0" y="124.7" font-size="36" text-anchor="middle" fill="#1c1c1c" transform="rotate(-90 -28.0 124.7)">800</text>
<text x="-28.0" y="-2.0" font-size="36" text-anchor="middle" fill="#1c1c1c" transform="rotate(-90 -28.0 -2.0)">1000</text>
<text x="-65.0" y="323.5" font-size="35.6" text-anchor="middle" fill="#1c1c1c" transform="rotate(-90 -65.0 323.5)">Counts</text>
<text x="352.0" y="738.5" font-size="34.199999999999996" text-anchor="middle" fill="#111" stroke="#111" stroke-width="0.35">DNA contents</text>
<text x="324.0" y="-14.5" font-size="33.4" text-anchor="middle" fill="#111" stroke="#111" stroke-width="0.35">200210.205</text>
</g>
<g transform="translate(1260.6 2544.2)">
<text x="342.0" y="110.5" font-size="52" text-anchor="middle" font-weight="bold">4</text>
<text x="27.0" y="101.5" font-size="42" stroke="#000" stroke-width="1">26.70</text>
</g>
<g transform="translate(1267.4 2549.2)">
<text x="108.0" y="811.5" font-size="33.6" fill="#111" stroke="#111" stroke-width="0.35">Marker</text>
<text x="243.8" y="811.5" font-size="34.0" fill="#111" stroke="#111" stroke-width="0.35">Left, Right</text>
<text x="428.0" y="811.5" font-size="33.6" fill="#111" stroke="#111" stroke-width="0.35">% Total</text>
<line x1="93" y1="829.8" x2="552" y2="829.8" stroke="#000" stroke-width="4.4"/>
<text x="211.5" y="862.0" font-size="33.4" text-anchor="end" fill="#111" stroke="#111" stroke-width="0.35">All</text>
<text x="304.0" y="862.0" font-size="33.4" text-anchor="end" fill="#111" stroke="#111" stroke-width="0.35">0,</text>
<text x="400.5" y="862.0" font-size="33.4" text-anchor="end" fill="#111" stroke="#111" stroke-width="0.35">1023</text>
<text x="537.5" y="862.0" font-size="33.4" text-anchor="end" fill="#111" stroke="#111" stroke-width="0.35">100.00</text>
<text x="209.5" y="914.5" font-size="33.4" text-anchor="end" fill="#111" stroke="#111" stroke-width="0.35">M1</text>
<text x="311.0" y="914.5" font-size="33.4" text-anchor="end" fill="#111" stroke="#111" stroke-width="0.35">0,</text>
<text x="398.0" y="914.5" font-size="33.4" text-anchor="end" fill="#111" stroke="#111" stroke-width="0.35">160</text>
<text x="537.5" y="914.5" font-size="33.4" text-anchor="end" fill="#111" stroke="#111" stroke-width="0.35">26.70</text>
</g>
</svg>
</body></html>
